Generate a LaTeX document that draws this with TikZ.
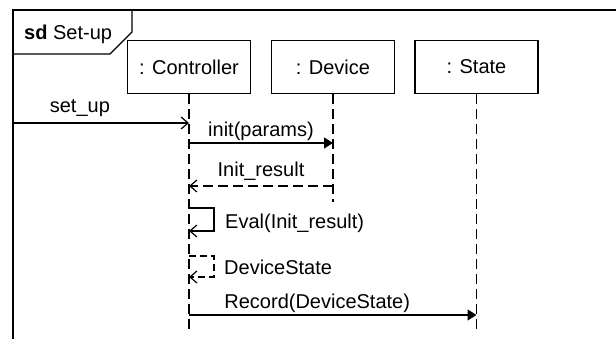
\documentclass[tikz,border=0pt]{standalone}
\usepackage{fontspec}
\setmainfont{Liberation Sans}
\usetikzlibrary{positioning, arrows.meta}
\tikzstyle{frame}=[draw=black, line width=1.3pt]
\tikzstyle{lifebox}=[draw=black, line width=1.3pt, minimum width=123pt, minimum height=53pt, inner sep=0pt]
\tikzstyle{lifeline}=[draw=black, line width=1.2pt, dash pattern=on 10pt off 5pt]
\tikzstyle{call}=[-{Triangle[length=9pt,width=11pt]}, line width=1.5pt]
\tikzstyle{async}=[-{Straight Barb[length=7pt,width=12pt]}, line width=1.2pt]
\tikzstyle{reply}=[async, dash pattern=on 10pt off 5pt]
\tikzstyle{msgLabel}=[anchor=base, inner sep=0pt]
\tikzstyle{loopLabel}=[anchor=base west, inner sep=0pt]

\begin{document}
\begin{tikzpicture}[x=1pt, y=-1pt, font=\fontsize{20pt}{24pt}\selectfont]
  \useasboundingbox (0,0) rectangle (616,339);
  \draw[frame] (13,339) -- (13,10) -- (616,10);
  \draw[frame] (13,54) -- (110,54) -- (132,32) -- (132,10);
  \node[loopLabel] (title) at (24,40) {\textbf{sd} Set-up};

  \node[lifebox] (ctrl) at (189,67) {: Controller};
  \node[lifebox] (dev) at (333,67) {: Device};
  \node[lifebox] (state) at (476.5,67) {: State};

  \coordinate (ctrlEnd) at (189,330);
  \coordinate (devEnd) at (333,202);
  \coordinate (stateEnd) at (476.5,331);
  \draw[lifeline] (ctrl.south) -- (ctrlEnd);
  \draw[lifeline] (dev.south) -- (devEnd);
  \draw[lifeline] (state.south) -- (stateEnd);

  \coordinate (gate) at (13,123);
  \coordinate (c1) at (189,123);
  \coordinate (c2) at (189,143);
  \coordinate (d2) at (333,143);
  \coordinate (d3) at (333,186);
  \coordinate (c3) at (189,186);
  \coordinate (c4) at (189,208);
  \coordinate (c5) at (189,231);
  \coordinate (c6) at (189,256);
  \coordinate (c7) at (189,277);
  \coordinate (c8) at (189,315);
  \coordinate (s8) at (476.5,315);

  \draw[async] (gate) -- (c1) node[msgLabel, pos=0.38, yshift=10pt] {set\_up};
  \draw[call] (c2) -- (d2) node[msgLabel, midway, yshift=6pt] {init(params)};
  \draw[reply] (d3) -- (c3) node[msgLabel, midway, yshift=9pt] {Init\_result};
  \draw[async] (c4) -- ++(25,0) |- (c5);
  \node[loopLabel] (eval) at (225,229) {Eval(Init\_result)};
  \draw[async, dash pattern=on 7pt off 4pt] (c6) -- ++(25,0) |- (c7);
  \node[loopLabel] (devState) at (224,274) {DeviceState};
  \draw[call] (c8) -- (s8) node[msgLabel, pos=0.446, yshift=7pt] {Record(DeviceState)};
\end{tikzpicture}
\end{document}
